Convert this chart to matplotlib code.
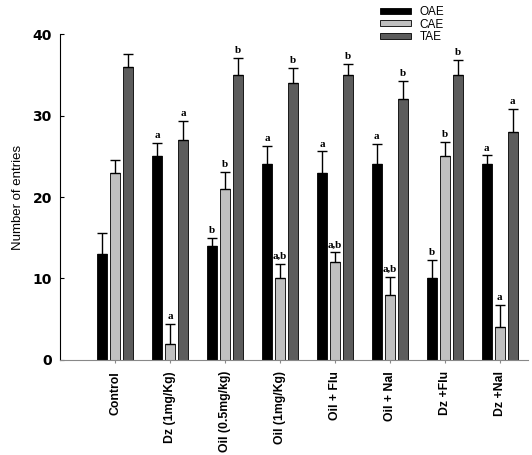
import numpy as np
import matplotlib
matplotlib.use('Agg')
import matplotlib.pyplot as plt

groups = ['Control', 'Dz (1mg/Kg)', 'Oil (0.5mg/kg)', 'Oil (1mg/Kg)',
          'Oil + Flu', 'Oil + Nal', 'Dz +Flu', 'Dz +Nal']
series = ['OAE', 'CAE', 'TAE']

oae = [13.0, 25.0, 14.0, 24.0, 23.0, 24.0, 10.0, 24.0]
oae_err = [2.6, 1.6, 1.0, 2.3, 2.6, 2.5, 2.3, 1.1]
cae = [23.0, 2.0, 21.0, 10.0, 12.0, 8.0, 25.0, 4.0]
cae_err = [1.6, 2.4, 2.1, 1.8, 1.2, 2.2, 1.8, 2.8]
tae = [36.0, 27.0, 35.0, 34.0, 35.0, 32.0, 35.0, 28.0]
tae_err = [1.6, 2.3, 2.1, 1.8, 1.3, 2.3, 1.8, 2.8]

oae_sig = ['', 'a', 'b', 'a', 'a', 'a', 'b', 'a']
cae_sig = ['', 'a', 'b', 'a,b', 'a,b', 'a,b', 'b', 'a']
tae_sig = ['', 'a', 'b', 'b', 'b', 'b', 'b', 'a']

colors = ['#000000', '#c0c0c0', '#5c5c5c']

fig = plt.figure(figsize=(5.32, 4.55), dpi=100)
ax = fig.add_axes([0.113, 0.209, 0.879, 0.716])

x = np.arange(len(groups))
width = 0.18
offset = 0.236

all_vals = [oae, cae, tae]
all_err = [oae_err, cae_err, tae_err]
all_sig = [oae_sig, cae_sig, tae_sig]

for i in range(3):
    pos = x + (i - 1) * offset
    ax.bar(pos, all_vals[i], width, color=colors[i], edgecolor='black',
           linewidth=0.6, label=series[i], zorder=2)
    ax.errorbar(pos, all_vals[i], yerr=[np.zeros(len(groups)), all_err[i]],
                fmt='none', ecolor='black', elinewidth=1, capsize=3.5,
                capthick=1, zorder=3)
    for p, v, e, s in zip(pos, all_vals[i], all_err[i], all_sig[i]):
        if s:
            ax.text(p, v + e + 0.35, s, ha='center', va='bottom',
                    fontsize=8, fontweight='bold', family='Liberation Serif')

ax.set_xlim(-1.0, 7.51)
ax.set_ylim(0, 40)
ax.set_yticks([0, 10, 20, 30, 40])
ax.set_yticklabels(['0', '10', '20', '30', '40'], fontsize=10, fontweight='bold')
ax.tick_params(axis='y', direction='in', length=3, pad=6)
ax.set_xticks(x)
ax.set_xticklabels(groups, rotation=90, fontsize=8.8, fontweight='bold',
                   family='Liberation Sans')
ax.tick_params(axis='x', direction='out', length=2, pad=6, color='#888888')
ax.spines['top'].set_visible(False)
ax.spines['right'].set_visible(False)
ax.spines['bottom'].set_color('#888888')
ax.spines['left'].set_linewidth(0.8)

ax.set_ylabel('Number of entries', fontsize=9.5, family='Liberation Sans',
              labelpad=6)

fig.legend(loc='upper left', bbox_to_anchor=(0.695, 1.01), frameon=False,
           handlelength=2.6, handleheight=0.4, labelspacing=0.05,
           handletextpad=0.7, prop={'family': 'Liberation Sans', 'size': 8.5})

fig.savefig('out.png', dpi=100)
